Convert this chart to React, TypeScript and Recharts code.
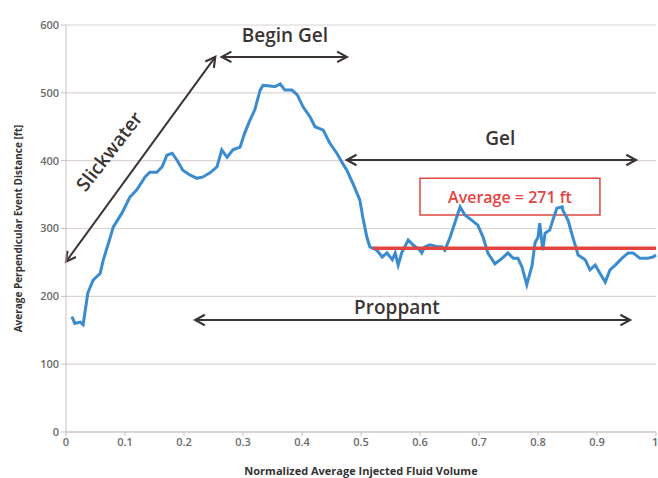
import { LineChart, Line, XAxis, YAxis, CartesianGrid, ReferenceLine, ReferenceDot, ReferenceArea } from 'recharts';

// normalized injected volume vs. average perpendicular event distance (ft)
const volume = [
  0.010, 0.015, 0.024, 0.029, 0.037, 0.046, 0.058, 0.063, 0.075, 0.080,
  0.095, 0.108, 0.120, 0.134, 0.142, 0.154, 0.163, 0.171, 0.180, 0.188,
  0.198, 0.210, 0.222, 0.232, 0.244, 0.256, 0.264, 0.273, 0.283, 0.295,
  0.303, 0.312, 0.320, 0.329, 0.334, 0.346, 0.354, 0.363, 0.371, 0.383,
  0.392, 0.402, 0.414, 0.422, 0.436, 0.447, 0.459, 0.469, 0.476, 0.486,
  0.498, 0.503, 0.510, 0.515, 0.527, 0.536, 0.544, 0.553, 0.558, 0.563,
  0.569, 0.580, 0.588, 0.600, 0.603, 0.608, 0.617, 0.629, 0.637, 0.642,
  0.651, 0.659, 0.668, 0.676, 0.688, 0.698, 0.707, 0.715, 0.727, 0.739,
  0.749, 0.758, 0.766, 0.773, 0.781, 0.790, 0.795, 0.800, 0.803, 0.808,
  0.812, 0.820, 0.825, 0.832, 0.841, 0.842, 0.851, 0.859, 0.868, 0.880,
  0.888, 0.897, 0.905, 0.914, 0.922, 0.931, 0.942, 0.953, 0.961, 0.973,
  0.985, 0.995, 1.0,
];
const distance = [
  170, 160, 162, 158, 205, 224, 234, 253, 287, 302,
  323, 346, 357, 376, 383, 383, 391, 408, 411, 401,
  386, 379, 374, 376, 382, 391, 416, 405, 416, 420,
  441, 460, 475, 504, 511, 510, 509, 513, 504, 504,
  497, 479, 464, 450, 445, 426, 411, 396, 386, 367,
  342, 317, 287, 273, 268, 258, 264, 254, 264, 246,
  264, 283, 276, 268, 264, 273, 276, 273, 273, 268,
  287, 308, 332, 320, 312, 305, 287, 264, 248, 256,
  264, 256, 256, 243, 217, 246, 279, 287, 308, 268,
  293, 298, 312, 330, 332, 327, 312, 287, 261, 254,
  239, 246, 234, 221, 239, 246, 256, 264, 264, 256,
  256, 258, 261,
];

const xTicks = [0, 0.1, 0.2, 0.3, 0.4, 0.5, 0.6, 0.7, 0.8, 0.9, 1];
const yTicks = [0, 100, 200, 300, 400, 500, 600];

const averageValue = 271;
const averageStart = 0.52;

const data = volume.map((v, i) => ({ v, d: distance[i] }));

const ink = '#3b3434';
const red = '#e2453f';
const font = '"Open Sans", "Liberation Sans", sans-serif';

// double headed arrow drawn between the segment ends
const Arrow = (p: any) => {
  const { x1, y1, x2, y2 } = p;
  const a = Math.atan2(y2 - y1, x2 - x1);
  const h = 11;
  const w = 0.5;
  const head = (x: number, y: number, ang: number) =>
    `M${x + h * Math.cos(ang + w)},${y + h * Math.sin(ang + w)} L${x},${y} L${x + h * Math.cos(ang - w)},${y + h * Math.sin(ang - w)}`;
  return (
    <g>
      <line x1={x1} y1={y1} x2={x2} y2={y2} stroke={ink} strokeWidth={2} />
      <path d={head(x1, y1, a)} fill="none" stroke={ink} strokeWidth={2.2} />
      <path d={head(x2, y2, a + Math.PI)} fill="none" stroke={ink} strokeWidth={2.2} />
    </g>
  );
};

const note = (text: string, size: number, color: string, angle = 0) => (p: any) => (
  <text
    x={p.cx}
    y={p.cy}
    textAnchor="middle"
    dominantBaseline="central"
    fontSize={size}
    fontWeight={600}
    fontFamily={font}
    fill={color}
    transform={angle ? `rotate(${angle} ${p.cx} ${p.cy})` : undefined}
  >
    {text}
  </text>
);

export default function App() {
  return (
    <div style={{ position: 'absolute', left: 0, top: 0, background: '#fff' }}>
      <LineChart width={658} height={478} data={data} margin={{ top: 25, right: 2, bottom: 16, left: 26 }}>
        <CartesianGrid vertical={false} stroke="#ddd3d3" strokeWidth={1.2} />
        <XAxis
          dataKey="v"
          type="number"
          domain={[0, 1]}
          ticks={xTicks}
          height={30}
          stroke="#cbbfbf"
          tickSize={4}
          tick={{ fill: '#6a6a6a', fontSize: 11, fontWeight: 600, fontFamily: font }}
          label={{
            value: 'Normalized Average Injected Fluid Volume',
            position: 'insideBottom',
            offset: -13,
            style: { fill: '#333', fontSize: 11, fontWeight: 700, fontFamily: font },
          }}
        />
        <YAxis
          type="number"
          domain={[0, 600]}
          ticks={yTicks}
          width={40}
          stroke="#cbbfbf"
          tickSize={5}
          tick={{ fill: '#6a6a6a', fontSize: 11, fontWeight: 600, fontFamily: font }}
          label={{
            content: ({ viewBox }: any) => {
              const cx = 18;
              const cy = viewBox.y + viewBox.height / 2;
              return (
                <text x={cx} y={cy} transform={`rotate(-90 ${cx} ${cy})`} textAnchor="middle" dominantBaseline="central" fontSize={10} fontWeight={700} fontFamily={font} fill="#333">
                  Average Perpendicular Event Distance [ft]
                </text>
              );
            },
          }}
        />
        <ReferenceArea x1={0.6} x2={0.905} y1={320} y2={374} fill="#fff" fillOpacity={1} stroke={red} strokeWidth={1.5} />
        <ReferenceDot x={0.7525} y={347} r={0} shape={note('Average = 271 ft', 16, red)} />
        <Line dataKey="d" type="linear" stroke="#3a8bd0" strokeWidth={3} dot={false} isAnimationActive={false} />
        <ReferenceLine segment={[{ x: averageStart, y: averageValue }, { x: 1, y: averageValue }]} stroke={red} strokeWidth={3.5} />
        <ReferenceLine segment={[{ x: 0, y: 251 }, { x: 0.253, y: 553 }]} shape={Arrow} />
        <ReferenceLine segment={[{ x: 0.264, y: 553 }, { x: 0.476, y: 553 }]} shape={Arrow} />
        <ReferenceLine segment={[{ x: 0.476, y: 401 }, { x: 0.966, y: 401 }]} shape={Arrow} />
        <ReferenceLine segment={[{ x: 0.219, y: 165 }, { x: 0.956, y: 165 }]} shape={Arrow} />
        <ReferenceDot x={0.073} y={414} r={0} shape={note('Slickwater', 19, ink, -52)} />
        <ReferenceDot x={0.371} y={585} r={0} shape={note('Begin Gel', 19, ink)} />
        <ReferenceDot x={0.736} y={433} r={0} shape={note('Gel', 19, ink)} />
        <ReferenceDot x={0.561} y={184} r={0} shape={note('Proppant', 19, ink)} />
      </LineChart>
    </div>
  );
}
